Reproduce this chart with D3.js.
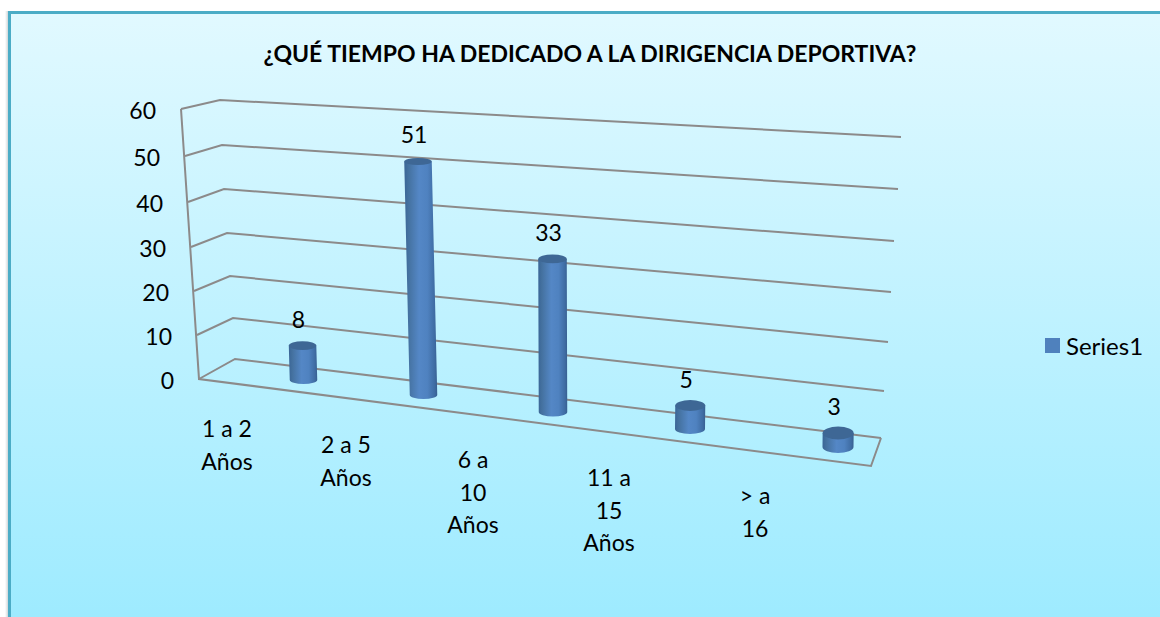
<!DOCTYPE html>
<html><head><meta charset="utf-8">
<script src="https://cdn.jsdelivr.net/npm/d3@7"></script>
<style>html,body{margin:0;padding:0;background:#fff;overflow:hidden}svg{display:block}text{font-family:Lato,"Open Sans",sans-serif;fill:#000}</style>
</head><body><svg id="c" width="1160" height="617"></svg>
<script>
const titleText = "¿QUÉ TIEMPO HA DEDICADO A LA DIRIGENCIA DEPORTIVA?";
const categories = [["1 a 2","Años"],["2 a 5","Años"],["6 a","10","Años"],["11 a","15","Años"],["> a","16"]];
const values = [8,51,33,5,3];
const seriesName = "Series1";
const ticks = [0,10,20,30,40,50,60];

const svg = d3.select("#c");
const idx = d3.range(categories.length);

// Perspective edges of the 3D box, expressed as scales over the value axis
const frontLeftX = d3.scaleLinear().domain(ticks).range([199,197,194,191,188,185,181]);
const frontLeftY = d3.scaleLinear().domain(ticks).range([379,335,291,247,202,156,109]);
const backLeftX  = d3.scaleLinear().domain(ticks).range([235,233,230,227,224,222,220]);
const backLeftY  = d3.scaleLinear().domain(ticks).range([359,318,276,233,189,145,100]);
const backRightX = d3.scaleLinear().domain(ticks).range([881,884,888,891,894,898,901]);
const backRightY = d3.scaleLinear().domain(ticks).range([438,391,342,292,241,189,137]);
const floorFrontRight = [871,466];

// Category scales over the bar index
const baseX = d3.scaleLinear().domain(idx).range([303.5,423.5,553,690,838]);
const baseY = d3.scaleLinear().domain(idx).range([380,395,412,429,447]);
const unitH = d3.scaleLinear().domain(idx).range([4.3,4.58,4.64,4.7,4.67]);
const lean  = d3.scaleLinear().domain(idx).range([-.12,-.108,-.015,.05,.05]);
const barW  = d3.scaleLinear().domain(idx).range([27.5,27.5,28.5,30,31]);
const baseRy= d3.scaleLinear().domain(idx).range([4,4,4.5,5,6]);
const labelX= d3.scaleLinear().domain(idx).range([227,346,473,609,755]);
const labelY= d3.scaleLinear().domain(idx).range([428,444,459,477,495]);

const defs = svg.append("defs");
const bg = defs.append("linearGradient").attr("id","bg").attr("x1",0).attr("y1",0).attr("x2",0).attr("y2",1);
bg.append("stop").attr("offset",0).attr("stop-color","#e1f9ff");
bg.append("stop").attr("offset",1).attr("stop-color","#9eebff");
const sh = defs.append("linearGradient").attr("id","sh").attr("x1",0).attr("x2",1).attr("y1",0).attr("y2",0);
sh.append("stop").attr("offset",0).attr("stop-color","#fff");
sh.append("stop").attr("offset",1).attr("stop-color","#cfd6d8");
const cyl = defs.append("linearGradient").attr("id","cyl").attr("x1",0).attr("x2",1).attr("y1",0).attr("y2",0);
[[0,"#3a6596"],[.12,"#44719f"],[.45,"#5487c6"],[.7,"#4f82c0"],[.92,"#3f6ca3"],[1,"#375f90"]]
  .forEach(s=>cyl.append("stop").attr("offset",s[0]).attr("stop-color",s[1]));

// Chart panel
svg.append("rect").attr("x",5).attr("y",11).attr("width",3).attr("height",606).attr("fill","url(#sh)");
svg.append("rect").attr("x",8).attr("y",11).attr("width",1152).attr("height",606).attr("fill","#4bacc6");
svg.append("rect").attr("x",11).attr("y",14).attr("width",1149).attr("height",603).attr("fill","url(#bg)");

svg.append("text").attr("x",590).attr("y",53).attr("text-anchor","middle").attr("dominant-baseline","central")
  .attr("font-size",23).attr("font-weight",700).text(titleText);

// Grid
const grid = svg.append("g").attr("fill","none").attr("stroke","#8c8a8a").attr("stroke-width",2);
const line = d3.line();
grid.selectAll("path.g").data(ticks).join("path").attr("class","g")
  .attr("d",v=>line([[frontLeftX(v),frontLeftY(v)],[backLeftX(v),backLeftY(v)],[backRightX(v),backRightY(v)]]));
grid.append("path").attr("d",line([[frontLeftX(60),frontLeftY(60)],[frontLeftX(0),frontLeftY(0)],floorFrontRight,[backRightX(0),backRightY(0)]]));

// Tick labels
svg.append("g").selectAll("text").data(ticks).join("text")
  .attr("x",v=>frontLeftX(v)-25).attr("y",v=>frontLeftY(v)+1)
  .attr("text-anchor","end").attr("dominant-baseline","central").attr("font-size",23).text(v=>v);

// Cylinders
const bars = svg.append("g").selectAll("g").data(values).join("g");
const topX = (v,i)=>baseX(i)+v*lean(i);
const topY = (v,i)=>baseY(i)-v*unitH(i);
const topRy = (v,i)=>baseRy(i)+.5-v*.02;
bars.append("path").attr("fill","url(#cyl)").attr("d",(v,i)=>{
  const r=barW(i)/2, ry=baseRy(i);
  return `M${topX(v,i)-r},${topY(v,i)}L${baseX(i)-r},${baseY(i)}A${r},${ry} 0 0 0 ${baseX(i)+r},${baseY(i)}L${topX(v,i)+r},${topY(v,i)}Z`;
});
bars.append("ellipse").attr("cx",topX).attr("cy",topY).attr("rx",(v,i)=>barW(i)/2).attr("ry",topRy).attr("fill","#3e6795");

// Data labels
svg.append("g").selectAll("text").data(values).join("text")
  .attr("x",(v,i)=>topX(v,i)-4).attr("y",(v,i)=>topY(v,i)-27)
  .attr("text-anchor","middle").attr("dominant-baseline","central").attr("font-size",23).text(v=>v);

// Category labels
const cat = svg.append("g").selectAll("g").data(categories).join("g");
cat.selectAll("text").data((d,i)=>d.map((t,j)=>({t,j,i}))).join("text")
  .attr("x",d=>labelX(d.i)).attr("y",d=>labelY(d.i)+d.j*32.5)
  .attr("text-anchor","middle").attr("dominant-baseline","central").attr("font-size",23).text(d=>d.t);

// Legend
svg.append("rect").attr("x",1045).attr("y",338).attr("width",15).attr("height",15).attr("fill","#4f81bd");
svg.append("text").attr("x",1066).attr("y",345).attr("dominant-baseline","central").attr("font-size",24).text(seriesName);
</script></body></html>
